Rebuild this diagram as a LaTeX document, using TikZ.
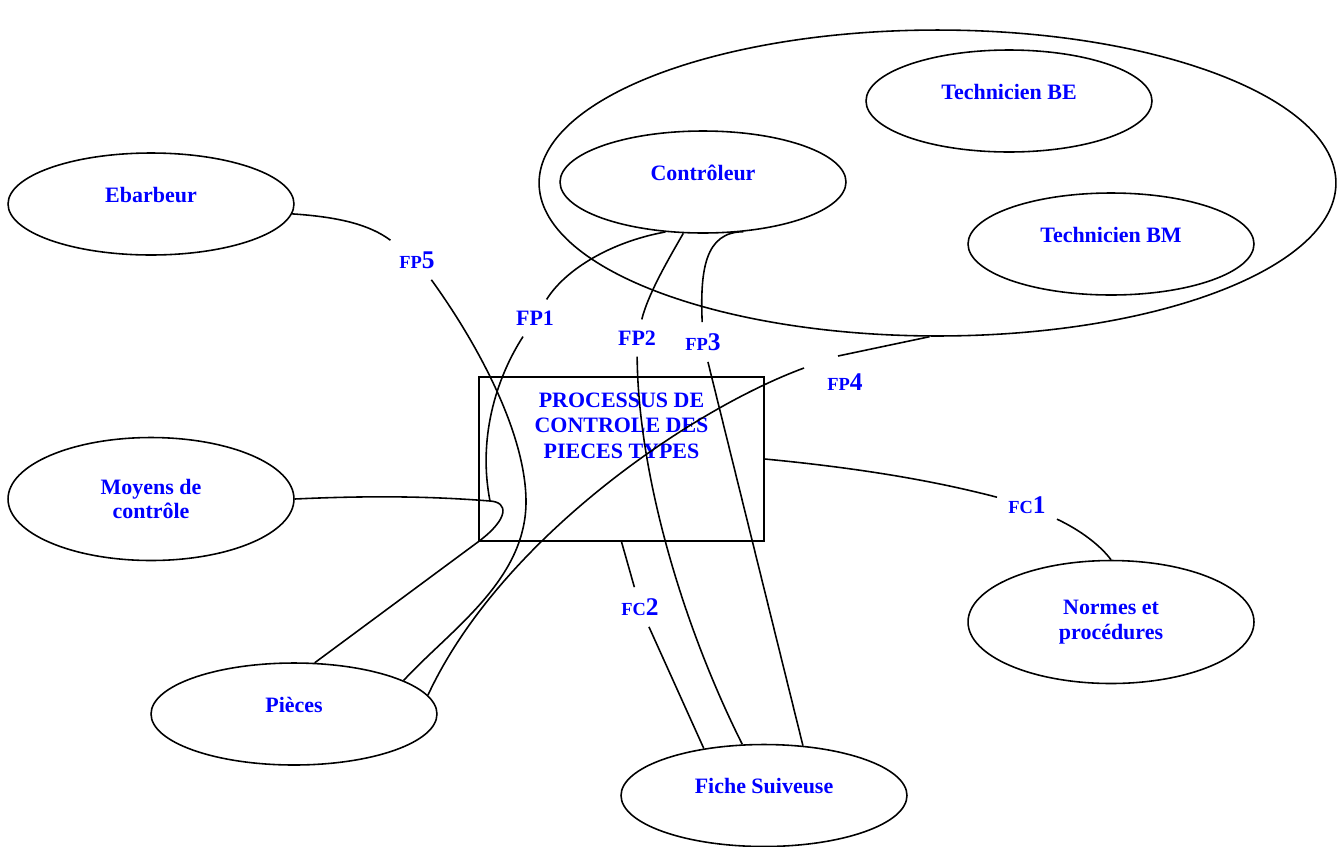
\documentclass[tikz,border=0pt]{standalone}
\usepackage{fontspec}
\setmainfont{Liberation Serif}
\usepackage{tikz}
\usetikzlibrary{shapes.geometric}

\newcommand{\fnlabel}[2]{{\fontsize{10.5}{10.5}\selectfont #1}{\fontsize{14.5}{14.5}\selectfont #2}}

\begin{document}
\begin{tikzpicture}[x=0.02cm, y=-0.02cm, line width=0.9pt,
  font=\fontsize{12.5}{14}\selectfont\bfseries]
  \tikzset{
    actor/.style={draw, ellipse, minimum width=5.72cm, minimum height=2.04cm,
      inner sep=0pt, text=blue, align=center},
    oneline/.style={text height=8.5pt, text depth=10.5pt},
    fn/.style={text=blue, inner sep=6pt},
  }
  \useasboundingbox (0,0) rectangle (1344,846);
  % Milieux exterieurs
  \node[actor, oneline] (ebarbeur) at (151,204) {Ebarbeur};
  \node[actor, minimum width=15.94cm, minimum height=6.12cm] (groupe) at (937.5,183) {};
  \node[actor, oneline] (techbe) at (1009,101) {Technicien BE};
  \node[actor, oneline] (controleur) at (703,182) {Contrôleur};
  \node[actor, oneline] (techbm) at (1111,244) {Technicien BM};
  \node[actor, minimum height=2.46cm] (moyens) at (151,499) {Moyens de\\contrôle};
  \node[actor, oneline] (pieces) at (294,714) {Pièces};
  \node[actor, oneline] (fiche) at (764,795.5) {Fiche Suiveuse};
  \node[actor, minimum height=2.46cm] (normes) at (1111,622) {Normes et\\procédures};
  % Processus
  \node[draw, minimum width=5.7cm, minimum height=3.28cm, inner sep=0pt] (processus) at (621.5,459) {};
  \node[text=blue, align=center, anchor=north, inner sep=0pt, font=\fontsize{12.5}{14.5}\selectfont\bfseries]
    (titre) at (621.5,392) {PROCESSUS DE\\CONTROLE DES\\PIECES TYPES};
  % Fonctions
  \node[fn] (fp5) at (417,260) {\fnlabel{FP}{5}};
  \node[fn] (fp1) at (535,318) {FP1};
  \node[fn] (fp2) at (637,338) {FP2};
  \node[fn] (fp3) at (703,342) {\fnlabel{FP}{3}};
  \node[fn] (fp4) at (845,382) {\fnlabel{FP}{4}};
  \node[fn] (fc1) at (1027,505) {\fnlabel{FC}{1}};
  \node[fn] (fc2) at (640,607) {\fnlabel{FC}{2}};
  \coordinate (fp4a) at (838,356);
  \coordinate (fp4b) at (804,368);
  \coordinate (hook) at (490,501);
  % Liaisons
  \draw (ebarbeur.-4) .. controls (340,217) and (370,225) .. (fp5);
  \draw (fp5) .. controls (475,340) and (525,430) .. (526,500)
    .. controls (527,580) and (450,630) .. (pieces.17);
  \draw (controleur.-127) .. controls (610,242) and (565,270) .. (fp1);
  \draw (fp1) .. controls (495,380) and (478,440) .. (hook);
  \draw (moyens.east) .. controls (380,495) and (440,497) .. (hook)
    .. controls (508,502) and (510,518) .. (processus.south west) -- (pieces.68);
  \draw (controleur.-111) .. controls (665,265) and (648,295) .. (fp2);
  \draw (fp2) .. controls (638,470) and (680,620) .. (fiche.113);
  \draw (controleur.-51) .. controls (705,232) and (700,270) .. (fp3);
  \draw (fp3) -- (fiche.52);
  \draw (groupe.-93) -- (fp4a);
  \draw (fp4b) .. controls (690,410) and (500,540) .. (pieces.8);
  \draw (processus.east) .. controls (880,470) and (950,485) .. (fc1);
  \draw (fc1) .. controls (1080,530) and (1100,545) .. (normes.north);
  \draw (processus.south) -- (fc2);
  \draw (fc2) -- (fiche.142);
\end{tikzpicture}
\end{document}
